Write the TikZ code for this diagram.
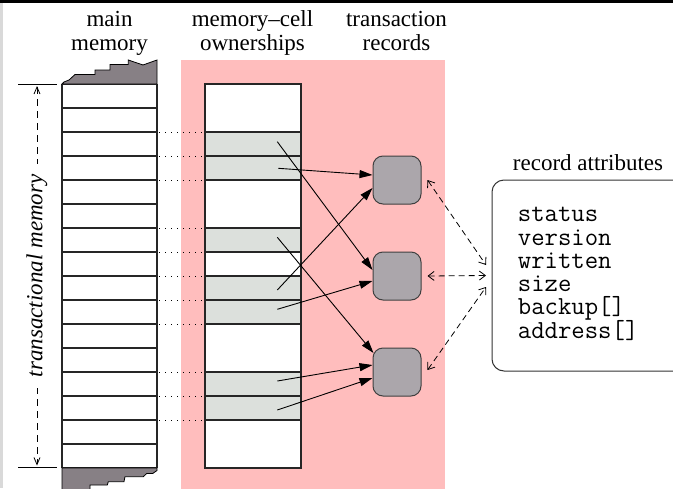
\documentclass[tikz,border=0pt]{standalone}
\usepackage{fontspec}
\setmainfont{Liberation Serif}
\usetikzlibrary{arrows.meta}
\definecolor{pinkbg}{RGB}{255,189,189}
\definecolor{cellgray}{RGB}{220,224,220}
\definecolor{recgray}{RGB}{171,166,171}
\definecolor{blobgray}{RGB}{135,128,133}
\begin{document}
\begin{tikzpicture}[x=1pt,y=-1pt,
  lbl/.style={font=\fontsize{23}{23.3}\selectfont, inner sep=0pt, anchor=base},
  mono/.style={font=\ttfamily\fontsize{26}{23.3}\selectfont, inner sep=0pt, anchor=base west},
  cellline/.style={line width=1.3pt, draw=black!85},
  dotline/.style={line width=1pt, dash pattern=on 1pt off 5pt},
  own/.style={-{Triangle[length=13pt,width=8pt]}, line width=0.9pt},
  attrarr/.style={{Straight Barb[length=6pt,width=9pt]}-{Straight Barb[length=6pt,width=9pt]}, dash pattern=on 6pt off 4pt, line width=0.8pt},
  vbarb/.style={{Straight Barb[length=7pt,width=6pt]}-{Straight Barb[length=7pt,width=6pt]}, dash pattern=on 7pt off 5pt, line width=0.8pt},
  rec/.style={draw=black!75, fill=recgray, rounded corners=10pt, minimum width=48pt, minimum height=48pt, inner sep=0pt, line width=1pt}]
\useasboundingbox (0,0) rectangle (673,488);
\clip (0,0) rectangle (673,488);
\fill[white] (0,0) rectangle (673,488);
\fill[black] (0,0) rectangle (673,3.3);
\fill[black!15] (0,3.3) rectangle (2.7,488);

% pink background
\fill[pinkbg] (181,60) rectangle (445,500);

% column labels
\node[lbl] (mm1) at (109.5,26.7) {main};
\node[lbl] (mm2) at (109.5,50) {memory};
\node[lbl] (oc1) at (252.5,26.7) {memory–cell};
\node[lbl] (oc2) at (252.5,50) {ownerships};
\node[lbl] (tr1) at (396.5,26.7) {transaction};
\node[lbl] (tr2) at (396.5,50) {records};

% main memory
\fill[white] (62,84) rectangle (157,468);
\foreach \k in {0,...,16} \draw[cellline] (62,{84+24*\k}) -- (157,{84+24*\k});
\draw[cellline] (62,84) -- (62,468) (157,84) -- (157,468);
\filldraw[fill=blobgray, draw=black, line width=0.8pt]
  (62,84) -- (64,82) -- (69,80) -- (75,74.5) -- (95,74.5) -- (95,70) -- (110,70) -- (110,64.5)
  -- (128.3,64.5) -- (128.3,60) -- (143,65) -- (157,60) -- (157,84) -- cycle;
\filldraw[fill=blobgray, draw=black, line width=0.8pt]
  (62,468) -- (157,468) -- (157,470.5) -- (152.7,473.5) -- (146.7,473.5) -- (143.3,476.7)
  -- (125,476.7) -- (124,481.7) -- (108.3,481.7) -- (107.3,485) -- (90,485) -- (90,495)
  -- (62,495) -- cycle;

% ownership column
\fill[white] (205,84) rectangle (301,468);
\foreach \r in {2,3,6,8,9,12,13} \fill[cellgray] (205,{84+24*\r}) rectangle (301,{108+24*\r});
\foreach \y in {132,156,180,228,252,276,300,324,372,396,420} {
  \draw[cellline] (205,\y) -- (301,\y);
  \draw[dotline] (159,\y) -- (205,\y);
}
\draw[cellline] (205,84) rectangle (301,468);

% transactional memory span
\draw[line width=1pt] (18,84) -- (57,84) (18,467.3) -- (57,467.3);
\coordinate (tmtop) at (37,86);
\coordinate (tmbot) at (37,465.5);
\draw[vbarb] (tmtop) -- (tmbot)
  node[midway, fill=white, rotate=90, font=\itshape\fontsize{23}{23}\selectfont, inner xsep=11pt, inner ysep=2pt] (tm) {transactional memory};

% records
\node[rec] (r1) at (397,180) {};
\node[rec] (r2) at (397,276) {};
\node[rec] (r3) at (397,372) {};

% ownership arrows
\coordinate (s2) at (277.3,141.7);
\coordinate (s3) at (278.3,168.3);
\coordinate (s6) at (277.3,237.3);
\coordinate (s8) at (277.3,290);
\coordinate (s9) at (277.3,309.3);
\coordinate (s12) at (277.3,381);
\coordinate (s13) at (277.3,410);
\draw[own] (s2) -- ([yshift=6pt]r2.west);
\draw[own] (s3) -- ([yshift=5pt]r1.west);
\draw[own] (s8) -- ([yshift=-8pt]r1.west);
\draw[own] (s6) -- ([xshift=1pt,yshift=19pt]r3.west);
\draw[own] (s9) -- ([yshift=-5pt]r2.west);
\draw[own] (s12) -- ([yshift=7pt]r3.west);
\draw[own] (s13) -- ([yshift=-6pt]r3.west);

% record attributes
\node[lbl] (attrlbl) at (588,170) {record attributes};
\node[draw=black!80, line width=1pt, rounded corners=12pt, minimum width=200pt, minimum height=191pt, inner sep=0pt] (attr) at (592,275.5) {};
\node[mono] (attrlist) at (517.7,221.7) {\vtop{\baselineskip=23.3pt\lineskiplimit=-50pt
  \hbox{status}\hbox{version}\hbox{written}\hbox{size}\hbox{backup[]}\hbox{address[]}}};

\draw[attrarr] ([xshift=6pt]r1.east) -- ([xshift=-5.5pt,yshift=10.5pt]attr.west);
\draw[attrarr] ([xshift=6pt]r2.east) -- ([xshift=-5.5pt]attr.west);
\draw[attrarr] ([xshift=6pt,yshift=2pt]r3.east) -- ([xshift=-5.5pt,yshift=-11.5pt]attr.west);
\end{tikzpicture}
\end{document}
